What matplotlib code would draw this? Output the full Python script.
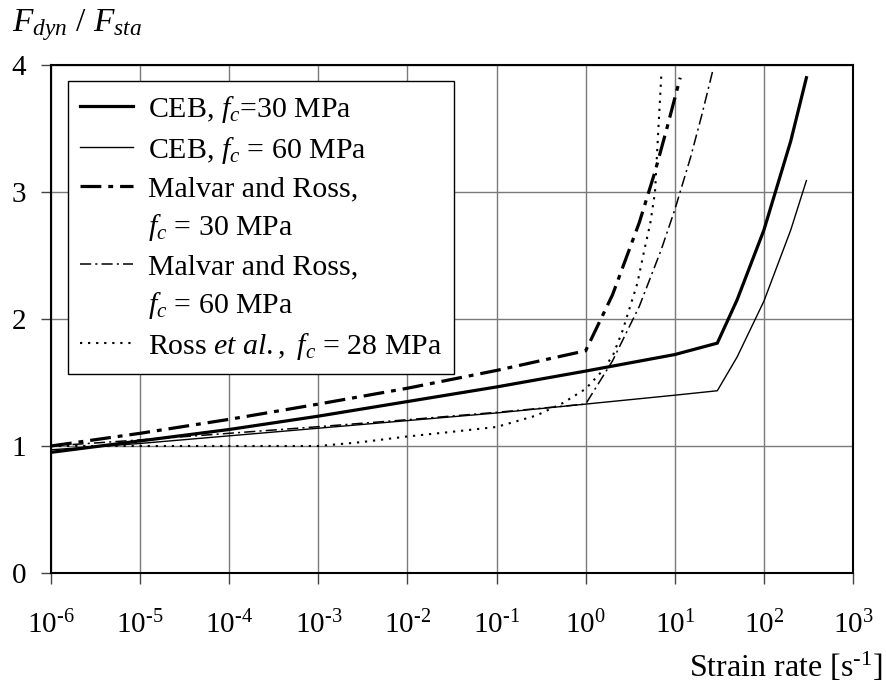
import matplotlib
matplotlib.use("Agg")
import matplotlib.pyplot as plt
from matplotlib.lines import Line2D
from matplotlib.ticker import FixedLocator, NullLocator

plt.rcParams['font.family'] = ['Liberation Serif', 'DejaVu Serif']
plt.rcParams['mathtext.fontset'] = 'custom'
plt.rcParams['mathtext.rm'] = 'Liberation Serif'
plt.rcParams['mathtext.it'] = 'Liberation Serif:italic'
plt.rcParams['mathtext.bf'] = 'Liberation Serif:bold'
plt.rcParams['lines.scale_dashes'] = False

# ---- data ----
ceb30_x = [1e-6, 1e-5, 1e-4, 1e-3, 1e-2, 1e-1, 1, 10, 30, 50, 100, 200, 300]
ceb30_y = [0.95, 1.04, 1.13, 1.235, 1.35, 1.465, 1.59, 1.72, 1.81, 2.15, 2.70, 3.40, 3.90]

ceb60_x = [1e-6, 1e-5, 1e-4, 1e-3, 1e-2, 1e-1, 1, 10, 30, 50, 100, 200, 300]
ceb60_y = [0.97, 1.02, 1.08, 1.14, 1.20, 1.26, 1.33, 1.40, 1.435, 1.70, 2.14, 2.70, 3.09]

mr30_x = [1e-6, 1e-5, 1e-4, 1e-3, 1e-2, 1e-1, 1, 2, 4, 6, 8, 11.5]
mr30_y = [1.0, 1.10, 1.21, 1.33, 1.455, 1.595, 1.75, 2.19, 2.76, 3.16, 3.48, 3.90]

mr60_x = [1e-6, 1e-5, 1e-4, 1e-3, 1e-2, 1e-1, 1, 2, 4, 7, 10, 15, 20, 27]
mr60_y = [1.0, 1.048, 1.10, 1.152, 1.207, 1.265, 1.33, 1.67, 2.10, 2.54, 2.86, 3.27, 3.60, 3.97]

ross_x = [1e-6, 1e-5, 1e-4, 1e-3, 3e-3, 1e-2, 3e-2, 1e-1, 0.28, 0.56, 1, 1.58, 2.04, 2.6, 3.8, 4.64, 5.3, 6.0, 6.55, 7.1]
ross_y = [1.0, 1.0, 1.0, 1.0, 1.03, 1.075, 1.11, 1.15, 1.24, 1.34, 1.45, 1.60, 1.72, 1.91, 2.28, 2.57, 2.75, 3.0, 3.5, 3.95]

x_ticks = [1e-6, 1e-5, 1e-4, 1e-3, 1e-2, 1e-1, 1, 10, 100, 1000]
x_tick_labels = [r'$10^{\text{-6}}$', r'$10^{\text{-5}}$', r'$10^{\text{-4}}$', r'$10^{\text{-3}}$',
                 r'$10^{\text{-2}}$', r'$10^{\text{-1}}$', r'$10^{0}$', r'$10^{1}$', r'$10^{2}$',
                 r'$10^{3}$']
y_ticks = [0, 1, 2, 3, 4]

labels = [r'CEB, $f_c$=30 MPa', r'CEB, $f_c$ = 60 MPa', 'Malvar and Ross,', r'$f_c$ = 30 MPa',
          'Malvar and Ross,', r'$f_c$ = 60 MPa', r'Ross $et$ $al.,$ $f_c$ = 28 MPa']

# ---- figure ----
fig = plt.figure(figsize=(8.86, 6.86), dpi=100)
ax = fig.add_axes([51/886, 113/686, 802/886, 508/686])

ax.set_xscale('log')
ax.set_xlim(1e-6, 1e3)
ax.set_ylim(0, 4)

l1, = ax.plot(ceb30_x, ceb30_y, color='black', lw=2.3, solid_joinstyle='miter')
l2, = ax.plot(ceb60_x, ceb60_y, color='black', lw=1.0)
l3, = ax.plot(mr30_x, mr30_y, color='black', lw=2.3, dashes=[15, 5, 3.5, 5], dash_capstyle='butt')
l4, = ax.plot(mr60_x, mr60_y, color='black', lw=1.1, dashes=[8, 3, 1.5, 3])
l5, = ax.plot(ross_x, ross_y, color='black', lw=1.5, dashes=[1.6, 4.2])

ax.xaxis.set_major_locator(FixedLocator(x_ticks))
ax.xaxis.set_minor_locator(NullLocator())
ax.set_xticklabels(x_tick_labels)
ax.set_yticks(y_ticks)
ax.set_yticklabels([str(v) for v in y_ticks])

ax.grid(True, which='major', color='#7a7a7a', lw=1.0)
ax.set_axisbelow(True)
for s in ax.spines.values():
    s.set_linewidth(1.5)
    s.set_color('black')

ax.tick_params(axis='x', which='major', direction='out', length=8, width=1, pad=19,
               labelsize=21, color='#444444')
ax.tick_params(axis='y', which='major', direction='out', length=7, width=1, pad=11,
               labelsize=21, color='#444444')

blank = Line2D([], [], color='none')
handles = [l1, l2, l3, blank, l4, blank, l5]
leg = ax.legend(handles, labels, loc='upper left', bbox_to_anchor=(0.021, 0.968),
                borderaxespad=0, fontsize=21.5, frameon=True, fancybox=False,
                framealpha=1, edgecolor='black', handlelength=1.75, handletextpad=0.5,
                borderpad=0.42, labelspacing=0.33)
leg.get_frame().set_linewidth(1.0)

fig.text(12/886, 1 - 25/686, r'$F_{dyn}$ / $F_{sta}$', fontsize=24, ha='left', va='center')
fig.text(882/886, 1 - 667/686, r'Strain rate [s$^{\text{-1}}$]', fontsize=23, ha='right', va='center')

fig.savefig('out.png', dpi=100)
